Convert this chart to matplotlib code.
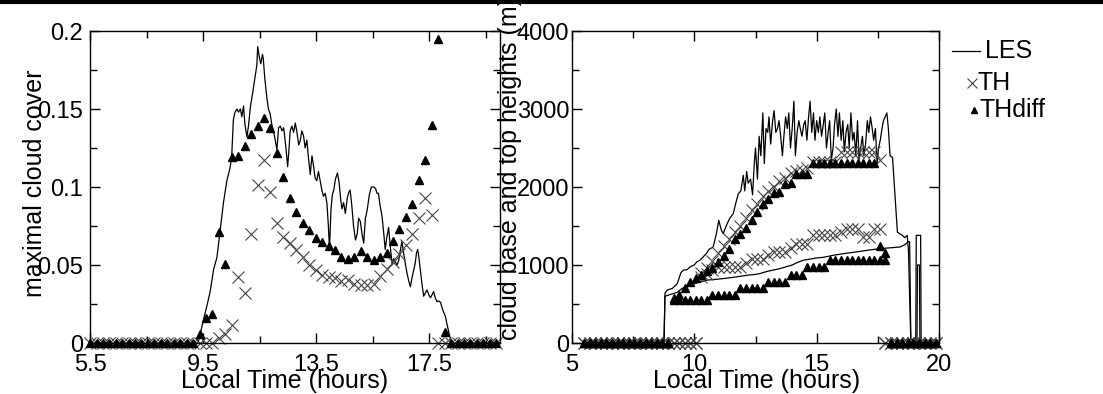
import numpy as np
import matplotlib
matplotlib.use("Agg")
import matplotlib.pyplot as plt
from matplotlib.lines import Line2D

plt.rcParams['font.family'] = ['Liberation Sans', 'DejaVu Sans']

# model output times (hours), shared by TH and THdiff
t_mod = [5.5, 5.73, 5.96, 6.18, 6.41, 6.64, 6.87, 7.1, 7.32, 7.55, 7.78, 8.01,
         8.24, 8.46, 8.69, 8.92, 9.15, 9.38, 9.6, 9.83, 10.06, 10.29, 10.52,
         10.74, 10.97, 11.2, 11.43, 11.66, 11.88, 12.11, 12.34, 12.57, 12.8,
         13.02, 13.25, 13.48, 13.71, 13.94, 14.16, 14.39, 14.62, 14.85, 15.08,
         15.3, 15.53, 15.76, 15.99, 16.22, 16.44, 16.67, 16.9, 17.13, 17.36,
         17.58, 17.81, 18.04, 18.27, 18.5, 18.72, 18.95, 19.18, 19.41, 19.64,
         19.86]

# ---- left panel: maximal cloud cover
cc_th = [0] * 20 + [0.003, 0.006, 0.0115, 0.0425, 0.032, 0.070, 0.101, 0.117,
                    0.097, 0.077, 0.068, 0.064, 0.0596, 0.0554, 0.050, 0.047,
                    0.0436, 0.0425, 0.0415, 0.040, 0.0405, 0.038, 0.037, 0.037,
                    0.038, 0.043, 0.0476, 0.052, 0.057, 0.063, 0.070, 0.080,
                    0.093, 0.082] + [0] * 10
cc_thdiff = [0] * 17 + [0.0058, 0.0158, 0.0186, 0.0713, 0.0504, 0.119, 0.12,
                        0.126, 0.134, 0.139, 0.144, 0.138, 0.1216, 0.1066,
                        0.0927, 0.0842, 0.0767, 0.0724, 0.0671, 0.065, 0.0622,
                        0.0596, 0.055, 0.054, 0.055, 0.059, 0.055, 0.0532,
                        0.055, 0.0579, 0.0656, 0.0729, 0.0806, 0.089, 0.1045,
                        0.117, 0.14, 0.195, 0.007] + [0] * 8

t_les_cc = [5.5, 9.3, 9.35, 9.51, 9.65, 9.75, 9.87, 9.99, 10.1, 10.22, 10.34,
            10.45, 10.51, 10.57, 10.63, 10.7, 10.75, 10.82, 10.87, 10.93, 10.98,
            11.05, 11.11, 11.17, 11.25, 11.34, 11.4, 11.43, 11.49, 11.54, 11.6,
            11.63, 11.68, 11.75, 11.81, 11.87, 11.93, 11.99, 12.05, 12.11, 12.17,
            12.23, 12.29, 12.35, 12.43, 12.49, 12.54, 12.58, 12.64, 12.7, 12.76,
            12.82, 12.88, 12.94, 12.99, 13.05, 13.11, 13.17, 13.23, 13.29, 13.35,
            13.41, 13.46, 13.52, 13.58, 13.64, 13.7, 13.76, 13.82, 13.88, 13.93,
            13.97, 14.02, 14.07, 14.12, 14.18, 14.25, 14.31, 14.36, 14.41, 14.47,
            14.53, 14.6, 14.66, 14.7, 14.76, 14.82, 14.89, 14.95, 15.0, 15.06,
            15.12, 15.18, 15.24, 15.3, 15.38, 15.45, 15.53, 15.6, 15.65, 15.7,
            15.76, 15.83, 15.89, 15.94, 16.0, 16.06, 16.12, 16.18, 16.24, 16.3,
            16.36, 16.42, 16.48, 16.53, 16.59, 16.65, 16.71, 16.77, 16.83, 16.89,
            16.95, 17.0, 17.05, 17.09, 17.13, 17.18, 17.24, 17.3, 17.36, 17.42,
            17.48, 17.54, 17.6, 17.65, 17.71, 17.77, 17.83, 17.9, 17.96, 18.07,
            18.15, 18.24, 18.3, 20.0]
cc_les = [0, 0, 0.002, 0.0147, 0.025, 0.033, 0.047, 0.055, 0.072, 0.09, 0.104,
          0.112, 0.119, 0.143, 0.148, 0.15, 0.148, 0.150, 0.145, 0.152, 0.14,
          0.132, 0.140, 0.151, 0.16, 0.171, 0.178, 0.19, 0.183, 0.179, 0.185,
          0.182, 0.17, 0.158, 0.15, 0.147, 0.14, 0.136, 0.130, 0.124, 0.138,
          0.139, 0.136, 0.138, 0.125, 0.113, 0.125, 0.136, 0.139, 0.135, 0.141,
          0.135, 0.127, 0.130, 0.136, 0.133, 0.125, 0.130, 0.118, 0.108, 0.12,
          0.113, 0.106, 0.104, 0.11, 0.104, 0.098, 0.094, 0.096, 0.0895, 0.075,
          0.06, 0.085, 0.095, 0.098, 0.105, 0.109, 0.103, 0.093, 0.086, 0.09,
          0.083, 0.093, 0.097, 0.098, 0.088, 0.075, 0.066, 0.07, 0.08, 0.078,
          0.07, 0.064, 0.08, 0.085, 0.095, 0.1, 0.1, 0.099, 0.096, 0.096,
          0.088, 0.081, 0.07, 0.06, 0.068, 0.074, 0.062, 0.051, 0.054, 0.052,
          0.05, 0.053, 0.06, 0.065, 0.058, 0.051, 0.045, 0.04, 0.036, 0.042,
          0.047, 0.051, 0.058, 0.060, 0.055, 0.047, 0.038, 0.030, 0.032, 0.034,
          0.031, 0.029, 0.031, 0.033, 0.029, 0.0265, 0.027, 0.026, 0.022, 0.017,
          0.01, 0.003, 0, 0]

# ---- right panel: cloud base and top heights (m)
top_th = [0] * 21 + [900, 960, 1050, 1150, 1250, 1330, 1420, 1500, 1600, 1700,
                     1780, 1880, 1950, 2000, 2080, 2120, 2180, 2200, 2220, 2250,
                     2320, 2320, 2320, 2320, 2320, 2446, 2446, 2446, 2446, 2446,
                     2446, 2446, 2340] + [0] * 10
base_th = [0] * 21 + [850, 890, 930, 976, 976, 976, 976, 976, 1030, 1083, 1083,
                      1083, 1130, 1168, 1168, 1168, 1220, 1275, 1275, 1275, 1381,
                      1381, 1381, 1381, 1381, 1420, 1466, 1466, 1466, 1360, 1360,
                      1466, 1466] + [0] * 10
top_thdiff = [0] * 16 + [580, 620, 700, 780, 830, 870, 920, 960, 1040, 1110,
                         1200, 1330, 1400, 1470, 1580, 1680, 1780, 1840, 1920,
                         1930, 2040, 2050, 2170, 2170, 2170] + [2311] * 12 + \
             [1250, 1160] + [0] * 9
base_thdiff = [0] * 16 + [550] * 7 + [614] * 5 + [700] * 5 + [784] * 4 + \
              [878] * 3 + [976] * 4 + [1061] * 11 + [0] * 9

t_les_top = [5.5, 8.76, 8.8, 8.9, 9.1, 9.3, 9.45, 9.55, 9.7, 9.85, 10.0, 10.1,
             10.23, 10.35, 10.5, 10.6, 10.77, 10.9, 11.0, 11.1, 11.18, 11.3,
             11.45, 11.59, 11.7, 11.8, 11.9, 12.0, 12.06, 12.14, 12.2, 12.3,
             12.38, 12.45, 12.5, 12.58, 12.65, 12.72, 12.8, 12.86, 12.93, 13.0,
             13.05, 13.12, 13.2, 13.26, 13.33, 13.4, 13.46, 13.53, 13.6, 13.66,
             13.73, 13.8, 13.86, 13.93, 14.0, 14.07, 14.13, 14.2, 14.27, 14.33,
             14.4, 14.47, 14.53, 14.6, 14.67, 14.73, 14.8, 14.87, 14.93, 15.0,
             15.07, 15.13, 15.2, 15.27, 15.33, 15.4, 15.47, 15.53, 15.6, 15.67,
             15.73, 15.8, 15.87, 15.93, 16.0, 16.07, 16.13, 16.2, 16.27, 16.33,
             16.4, 16.47, 16.53, 16.6, 16.67, 16.73, 16.8, 16.87, 16.93, 17.0,
             17.07, 17.13, 17.2, 17.27, 17.33, 17.4, 17.47, 17.53, 17.6, 17.67,
             17.73, 17.8, 17.87, 17.93, 18.0, 18.1, 18.2, 18.3, 18.4, 18.5,
             18.6, 18.7, 18.75, 18.8, 18.85, 19.05, 19.07, 19.25, 19.27, 20.0]
z_les_top = [0, 0, 640, 680, 700, 760, 900, 933, 940, 980, 1000, 1040, 1061,
             1100, 1150, 1200, 1231, 1400, 1573, 1450, 1403, 1500, 1600, 1658,
             1800, 1914, 1950, 2150, 1950, 2200, 2050, 2100, 1900, 2300, 2500,
             2100, 2650, 2400, 2950, 2300, 2750, 2700, 2900, 2550, 2850, 2980,
             2700, 2750, 2850, 2650, 2400, 2650, 2900, 2750, 2950, 2500, 2750,
             3100, 2400, 2700, 2850, 2750, 2650, 2800, 2850, 2600, 2900, 3100,
             2700, 2950, 2600, 2850, 2700, 2900, 2650, 2800, 2950, 2500, 2700,
             2850, 2350, 2500, 2800, 3000, 2650, 2950, 2600, 2850, 2450, 2700,
             2800, 2500, 2950, 2600, 2700, 2400, 2850, 2350, 2500, 2650, 2400,
             2550, 2850, 2700, 2900, 2750, 2600, 2750, 2300, 2500, 2600, 2750,
             2850, 2900, 2950, 2750, 2400, 2380, 1900, 1420, 1400, 1380, 1350,
             1380, 1200, 600, 0, 0, 1380, 1380, 0, 0]

t_les_base = [5.5, 8.76, 8.8, 9.0, 9.3, 9.5, 9.69, 10.0, 10.2, 10.5, 11.0,
              11.3, 11.73, 12.2, 12.5, 12.68, 13.0, 13.3, 13.5, 14.0, 14.2,
              14.45, 15.0, 15.3, 15.68, 16.2, 16.63, 17.1, 17.59, 18.0, 18.41,
              18.6, 18.75, 18.8, 18.85, 19.1, 19.12, 19.2, 19.22, 20.0]
z_les_base = [0, 0, 600, 620, 650, 700, 720, 760, 780, 805, 820, 830, 848, 870,
              880, 890, 920, 940, 954, 1000, 1030, 1061, 1090, 1100, 1125,
              1150, 1168, 1190, 1210, 1220, 1231, 1260, 1300, 1300, 0, 0, 1000,
              1000, 0, 0]

W, H = 1103, 394
fig = plt.figure(figsize=(W / 100, H / 100), dpi=100)

ax1 = fig.add_axes([90 / W, 1 - 343 / H, 410 / W, 312 / H])
ax2 = fig.add_axes([572 / W, 1 - 343 / H, 367 / W, 312 / H])

xkw = dict(marker='x', ls='none', ms=8, mew=0.8, color='#444444', clip_on=False)
tkw = dict(marker='^', ls='none', ms=6, color='black', clip_on=False)

ax1.plot(t_les_cc, cc_les, color='black', lw=0.9)
ax1.plot(t_mod, cc_th, **xkw)
ax1.plot(t_mod, cc_thdiff, **tkw)
ax1.set_xlim(5.5, 20)
ax1.set_ylim(0, 0.2)
ax1.set_xticks([5.5, 9.5, 13.5, 17.5])
ax1.set_xticklabels(['5.5', '9.5', '13.5', '17.5'])
ax1.set_xticks([7.5, 11.5, 15.5, 19.5], minor=True)
ax1.set_yticks([0, 0.05, 0.1, 0.15, 0.2])
ax1.set_yticklabels(['0', '0.05', '0.1', '0.15', '0.2'])
ax1.set_yticks([0.025, 0.075, 0.125, 0.175], minor=True)

ax2.plot(t_les_top, z_les_top, color='black', lw=0.9)
ax2.plot(t_les_base, z_les_base, color='black', lw=0.9)
ax2.plot(t_mod, top_th, **xkw)
ax2.plot(t_mod, base_th, **xkw)
ax2.plot(t_mod, top_thdiff, **tkw)
ax2.plot(t_mod, base_thdiff, **tkw)
ax2.set_xlim(5, 20)
ax2.set_ylim(0, 4000)
ax2.set_xticks([5, 10, 15, 20])
ax2.set_xticks([7.5, 12.5, 17.5], minor=True)
ax2.set_yticks([0, 1000, 2000, 3000, 4000])
ax2.set_yticks([500, 1500, 2500, 3500], minor=True)

for ax, ypad in ((ax1, 5), (ax2, 2)):
    for s in ax.spines.values():
        s.set_linewidth(1.0)
    ax.tick_params(which='both', direction='in', top=True, right=True,
                   labelsize=17, width=1.0)
    ax.tick_params(which='major', length=7)
    ax.tick_params(which='minor', length=5)
    ax.tick_params(axis='x', pad=8)
    ax.tick_params(axis='y', pad=ypad)

fig.text(35 / W, 1 - 183 / H, 'maximal cloud cover', rotation=90,
         ha='center', va='center', fontsize=18)
fig.text(510 / W, 1 - 168 / H, 'cloud base and top heights (m)', rotation=90,
         ha='center', va='center', fontsize=18)
fig.text(285 / W, 1 - 381 / H, 'Local Time (hours)', ha='center', va='center',
         fontsize=18)
fig.text(757 / W, 1 - 381 / H, 'Local Time (hours)', ha='center', va='center',
         fontsize=18)

# legend drawn by hand, IDL style
fig.add_artist(Line2D([952 / W, 980 / W], [1 - 51 / H, 1 - 51 / H],
                      color='black', lw=0.9))
fig.text(985 / W, 1 - 51 / H, 'LES', va='center', fontsize=18)
fig.add_artist(Line2D([972 / W], [1 - 83 / H], marker='x', ms=7, mew=0.8,
                      color='#444444'))
fig.text(978 / W, 1 - 83 / H, 'TH', va='center', fontsize=18)
fig.add_artist(Line2D([974 / W], [1 - 110 / H], marker='^', ms=5,
                      color='black'))
fig.text(979 / W, 1 - 110 / H, 'THdiff', va='center', fontsize=18)

# rule across the top
fig.add_artist(Line2D([0, 1], [1 - 2 / H, 1 - 2 / H], color='black', lw=3))

fig.savefig('out.png', dpi=100)
